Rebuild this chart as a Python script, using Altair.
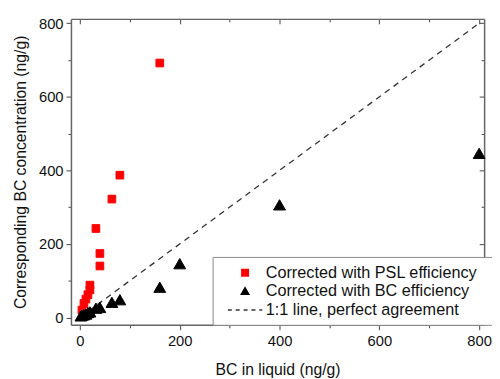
import altair as alt
import pandas as pd

# --- data ---
psl_x = [4, 8, 12, 16, 20, 20, 32, 40, 40, 64, 80, 160]
psl_y = [20, 38, 50, 62, 75, 88, 242, 174, 140, 322, 387, 692]
bc_x = [2, 4, 8, 12, 16, 20, 32, 40, 64, 80, 160, 200, 400, 800]
bc_y = [3, 5, 6, 8, 12, 14, 24, 26, 40, 47, 81, 145, 305, 445]
line_x = [0, 800]
line_y = [0, 800]
series = ["Corrected with PSL efficiency", "Corrected with BC efficiency",
          "1:1 line, perfect agreement"]
x_ticks = [0, 100, 200, 300, 400, 500, 600, 700, 800]
y_ticks = [0, 100, 200, 300, 400, 500, 600, 700, 800]

df_psl = pd.DataFrame({"x": psl_x, "y": psl_y, "s": series[0]})
df_bc = pd.DataFrame({"x": bc_x, "y": bc_y, "s": series[1]})
df_line = pd.DataFrame({"x": line_x, "y": line_y})

W, H = 420, 311
FONT = "Liberation Sans"

sq = "M-0.367,-0.367H0.367V0.367H-0.367Z"
tri = "M0,-0.4L0.42,0.333L-0.42,0.333Z"
dash = "M-1.944,0H-1.5M-1.055,0H-0.611M-0.167,0H0.278M0.722,0H1.167M1.611,0H1.944"

xs = alt.Scale(domain=[-18, 810], nice=False, zero=False)
ys = alt.Scale(domain=[-20, 812], nice=False, zero=False)

cond_tick = {"condition": {"test": "datum.value % 200 === 0", "value": 5}, "value": 3}
lab_expr = "datum.value % 200 === 0 ? datum.label : ''"

x_main = alt.Axis(orient="bottom", values=x_ticks, tickSize=cond_tick,
                  labelExpr=lab_expr,
                  title="BC in liquid (ng/g)", grid=False, domainColor="#666",
                  domainWidth=1.5, tickColor="#444", labelFontSize=15,
                  titleFontSize=16, labelFont=FONT, titleFont=FONT,
                  titleFontWeight="normal", labelColor="#111", titleColor="#111",
                  labelPadding=4, titlePadding=14, labelFlush=False)
y_main = alt.Axis(orient="left", values=y_ticks, tickSize=cond_tick,
                  labelExpr=lab_expr,
                  title="Corresponding BC concentration (ng/g)", grid=False,
                  domainColor="#666", domainWidth=1.5, tickColor="#444",
                  labelFontSize=15, titleFontSize=16, labelFont=FONT,
                  titleFont=FONT, titleFontWeight="normal", labelColor="#111",
                  titleColor="#111", labelPadding=3, titlePadding=10,
                  labelFlush=False)
x_top = alt.Axis(orient="bottom", offset=-H, values=x_ticks, tickSize=cond_tick,
                 labels=False, title=None, grid=False, domainColor="#666",
                 domainWidth=1.5, tickColor="#444")
y_right = alt.Axis(orient="left", offset=-W, values=y_ticks, tickSize=cond_tick,
                   labels=False, title=None, grid=False, domainColor="#666",
                   domainWidth=1.5, tickColor="#444")

shape_scale = alt.Scale(domain=series, range=[sq, tri, dash])
col_scale = alt.Scale(domain=series, range=["#ff0000", "#000000", "#333333"])

legend = alt.Legend(title=None, orient="none", legendX=144, legendY=242,
                    labelFont=FONT, labelFontSize=16.5, labelColor="#111",
                    labelLimit=400,
                    symbolSize=324, symbolStrokeWidth=1.5, padding=6,
                    symbolOffset=17, labelOffset=11, rowPadding=-1,
                    strokeColor="#888", fillColor="white",
                    labelExpr="datum.label + '\u00a0\u00a0\u00a0\u200b'")

def pts(df, size, xa, ya):
    return alt.Chart(df).mark_point(filled=True, size=size, opacity=1,
                                    strokeWidth=1).encode(
        x=alt.X("x:Q", scale=xs, axis=xa),
        y=alt.Y("y:Q", scale=ys, axis=ya),
        shape=alt.Shape("s:N", scale=shape_scale, legend=legend),
        fill=alt.Fill("s:N", scale=col_scale, legend=legend),
        stroke=alt.Stroke("s:N", scale=col_scale, legend=legend),
    )

line = alt.Chart(df_line).mark_line(strokeDash=[6, 5], color="#333",
                                    strokeWidth=1.3).encode(
    x=alt.X("x:Q", scale=xs, axis=x_top),
    y=alt.Y("y:Q", scale=ys, axis=y_right),
)

chart = alt.layer(line, pts(df_psl, 452, x_main, y_main),
                  pts(df_bc, 816, None, None)).resolve_axis(
    x="independent", y="independent"
).properties(
    width=W, height=H,
    autosize=alt.AutoSizeParams(type="none"),
    padding={"left": 64, "top": 8, "right": 8, "bottom": 52},
).configure_view(stroke=None).configure(background="white")

chart.save("out.html", embed_options={"renderer": "svg", "actions": False})
